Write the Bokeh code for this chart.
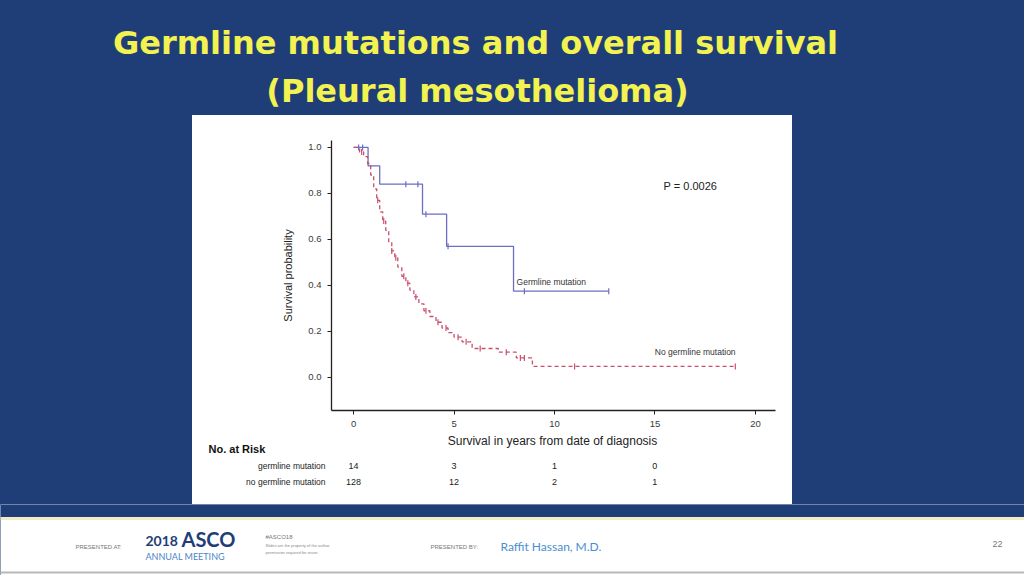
import numpy as np
from bokeh.plotting import figure
from bokeh.layouts import column, row
from bokeh.models import Label, BoxAnnotation, FixedTicker, PrintfTickFormatter, Range1d
from bokeh.core.properties import value
from bokeh.embed import file_html
from bokeh.resources import INLINE

# ---------------- data ----------------
germ_t = [0.0, 0.72, 1.3, 3.43, 4.63, 7.96, 12.7]
germ_s = [1.0, 0.92, 0.84, 0.71, 0.57, 0.375, 0.375]
germ_cens = [0.25, 0.45, 2.6, 3.2, 3.6, 4.7, 8.5, 12.7]

nogerm_t = [0.0, 0.3, 0.5, 0.7, 0.85, 1.0, 1.15, 1.3, 1.45, 1.6, 1.75, 1.9, 2.05,
            2.2, 2.4, 2.6, 2.8, 3.0, 3.25, 3.5, 3.8, 4.1, 4.4, 4.7, 5.0, 5.4,
            5.9, 7.2, 8.1, 8.9, 19.0]
nogerm_s = [1.0, 0.98, 0.96, 0.93, 0.88, 0.82, 0.77, 0.72, 0.68, 0.64, 0.59, 0.55,
            0.52, 0.48, 0.44, 0.41, 0.38, 0.35, 0.32, 0.29, 0.265, 0.24, 0.215,
            0.195, 0.175, 0.155, 0.126, 0.11, 0.085, 0.048, 0.048]
nogerm_cens = [0.4, 1.2, 1.5, 1.9, 2.1, 2.5, 2.7, 3.1, 3.6, 4.2, 4.6, 5.2, 5.6,
               6.3, 7.6, 8.3, 8.5, 11.0, 19.0]

risk_times = [0, 5, 10, 15]
risk_germ = [14, 3, 1, 0]
risk_nogerm = [128, 12, 2, 1]
risk_groups = ["germline mutation", "no germline mutation"]

x_ticks = [0, 5, 10, 15, 20]
y_ticks = [0.0, 0.2, 0.4, 0.6, 0.8, 1.0]

# ---------------- layout constants (page pixels) ----------------
NAVY = "#1f3e78"
BLUE = "#6b6fc2"
RED = "#c9506c"
YEL = "#f2f250"
FONT = "Liberation Sans"

X0, X1 = -1.1, 21.0
Y0, Y1 = -0.1435, 1.03
KX = 444 / (X1 - X0)          # px per year
KY = 270 / (Y1 - Y0)          # px per unit survival


def dx(px):   # page x -> years
    return (px - 353) / KX


def dy(py):   # page y -> survival
    return (377 - py) / KY


def deco(x0, x1, y0, y1, color):
    f = figure(width=x1 - x0, height=y1 - y0, x_range=Range1d(x0, x1), y_range=Range1d(y1, y0),
               x_axis_type=None, y_axis_type=None, output_backend="svg",
               toolbar_location=None, min_border=0)
    f.background_fill_color = color
    f.border_fill_color = color
    f.outline_line_color = None
    f.frame_align = False
    return f


def lab(f, x, y, text, size, color="#222222", align="left", style="normal", font=FONT):
    f.add_layout(Label(x=x, y=y, text=text, text_font=font, text_font_size=size,
                       text_color=color, text_align=align, text_baseline="middle",
                       text_font_style=style))


# ---------------- title band ----------------
title = deco(0, 1024, 0, 115, NAVY)
lab(title, 475, 42, "Germline mutations and overall survival", "32px", color=YEL,
    align="center", style="bold", font="DejaVu Sans")
lab(title, 477, 90, "(Pleural mesothelioma)", "32px", color=YEL,
    align="center", style="bold", font="DejaVu Sans")

left = deco(0, 192, 115, 504, NAVY)
right = deco(792, 1024, 115, 504, NAVY)

# ---------------- KM plot ----------------
p = figure(width=600, height=317, output_backend="svg", toolbar_location=None,
           x_range=Range1d(X0, X1), y_range=Range1d(Y0, Y1),
           min_border_left=139, min_border_right=17, min_border_top=25, min_border_bottom=22)
p.border_fill_color = "white"
p.background_fill_color = "white"
p.outline_line_color = None
p.frame_align = False
p.xgrid.visible = False
p.ygrid.visible = False

for ax in (p.xaxis[0], p.yaxis[0]):
    ax.axis_line_color = "#222222"
    ax.axis_line_width = 1.3
    ax.major_tick_line_color = "#222222"
    ax.major_tick_out = 4
    ax.major_tick_in = 0
    ax.minor_tick_line_color = None
    ax.major_label_text_font = FONT
    ax.major_label_text_font_size = "9.5px"
    ax.major_label_text_color = "#3a3a3a"
    ax.axis_label_text_font = FONT
    ax.axis_label_text_font_style = "normal"
    ax.axis_label_text_color = "#222222"

p.xaxis.ticker = FixedTicker(ticks=x_ticks)
p.xaxis.major_label_standoff = 6

p.yaxis.ticker = FixedTicker(ticks=y_ticks)
p.yaxis.formatter = PrintfTickFormatter(format="%.1f")
p.yaxis.major_label_standoff = 6
p.yaxis.axis_label = "Survival probability"
p.yaxis.axis_label_text_font_size = "11px"
p.yaxis.axis_label_standoff = 11

p.step(germ_t, germ_s, mode="after", line_color=BLUE, line_width=1.3)
p.step(nogerm_t, nogerm_s, mode="after", line_color=RED, line_width=1.3, line_dash="4 3")


def surv_at(ts, ss, t):
    idx = np.searchsorted(np.array(ts), t, side="right") - 1
    return ss[max(idx, 0)]


p.scatter(germ_cens, [surv_at(germ_t, germ_s, t) for t in germ_cens], marker="dash",
          angle=np.pi / 2, size=6, line_color=BLUE, line_width=1.2)
p.scatter(nogerm_cens, [surv_at(nogerm_t, nogerm_s, t) for t in nogerm_cens], marker="dash",
          angle=np.pi / 2, size=6, line_color=RED, line_width=1.2)

lab(p, dx(663), dy(186), "P = 0.0026", "11px")
lab(p, dx(516), dy(282), "Germline mutation", "8.5px", color="#333333")
lab(p, dx(735), dy(352), "No germline mutation", "8.5px", color="#333333", align="right")

# ---------------- number-at-risk table ----------------
tab = figure(width=600, height=72, output_backend="svg", toolbar_location=None,
             x_range=Range1d(dx(192), dx(792)), y_range=Range1d(504, 432),
             x_axis_type=None, y_axis_type=None, min_border=0)
tab.background_fill_color = "white"
tab.border_fill_color = "white"
tab.outline_line_color = None
tab.frame_align = False

tab.text(x=[dx(552)], y=[440], text=["Survival in years from date of diagnosis"],
         text_font=value(FONT), text_font_size="12px", text_color="#222222",
         text_align="center", text_baseline="middle")
tab.text(x=[dx(208)], y=[448], text=["No. at Risk"], text_font=value(FONT),
         text_font_size="11px", text_font_style="bold", text_color="#111111",
         text_baseline="middle")
tab.text(x=[dx(325)] * 2, y=[465, 481], text=risk_groups, text_font=value(FONT),
         text_font_size="8.5px", text_color="#222222", text_align="right",
         text_baseline="middle")
tab.text(x=risk_times, y=[465] * len(risk_times), text=[str(v) for v in risk_germ],
         text_font=value(FONT), text_font_size="9px", text_color="#222222",
         text_align="center", text_baseline="middle")
tab.text(x=risk_times, y=[481] * len(risk_times), text=[str(v) for v in risk_nogerm],
         text_font=value(FONT), text_font_size="9px", text_color="#222222",
         text_align="center", text_baseline="middle")

# ---------------- footer ----------------
foot = deco(0, 1024, 504, 575, "white")
foot.add_layout(BoxAnnotation(left=0, right=1024, top=504, bottom=516.5, fill_color=NAVY,
                              fill_alpha=1, line_color=None))
foot.add_layout(BoxAnnotation(left=0, right=1024, top=516.5, bottom=519.5, fill_color="#f1ecc4",
                              fill_alpha=1, line_color=None))
foot.add_layout(BoxAnnotation(left=0, right=1024, top=571, bottom=573, fill_color="#b8b8b8",
                              fill_alpha=1, line_color=None))
lab(foot, 75, 546, "PRESENTED AT:", "6px", color="#777777")
lab(foot, 145, 540, "2018", "14px", color=NAVY, style="bold", font="Lato")
lab(foot, 181, 538, "ASCO", "20px", color=NAVY, style="bold", font="Lato")
lab(foot, 145, 556, "ANNUAL MEETING", "9px", color="#4a86c8", font="Lato")
lab(foot, 265, 536, "#ASCO18", "6px", color="#777777")
lab(foot, 265, 545, "Slides are the property of the author,", "4px", color="#888888")
lab(foot, 265, 552, "permission required for reuse.", "4px", color="#888888")
lab(foot, 430, 546, "PRESENTED BY:", "6px", color="#777777")
lab(foot, 500, 546, "Raffit Hassan, M.D.", "12px", color="#4a8ed0", font="Lato")
lab(foot, 997, 543, "22", "9px", color="#777777", align="center")

panel = column(p, tab, styles={"background-color": "white"})
page = column(title, row(left, panel, right), foot,
              styles={"background-color": NAVY})
open("out.html", "w").write(file_html(page, INLINE))
